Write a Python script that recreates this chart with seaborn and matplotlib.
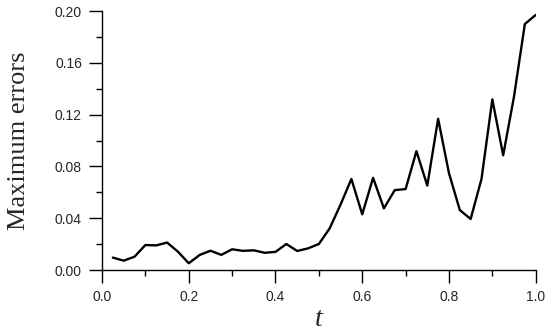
import numpy as np
import pandas as pd
import matplotlib
matplotlib.use("Agg")
import matplotlib.pyplot as plt
import seaborn as sns
from matplotlib.ticker import MultipleLocator

t_values = [0.025, 0.05, 0.075, 0.1, 0.125, 0.15, 0.175, 0.2, 0.225, 0.25,
            0.275, 0.3, 0.325, 0.35, 0.375, 0.4, 0.425, 0.45, 0.475, 0.5,
            0.525, 0.55, 0.575, 0.6, 0.625, 0.65, 0.675, 0.7, 0.725, 0.75,
            0.775, 0.8, 0.825, 0.85, 0.875, 0.9, 0.925, 0.95, 0.975, 1.0]
max_errors = [0.0096, 0.0072, 0.0103, 0.0193, 0.0190, 0.0212, 0.0142, 0.0052, 0.0116, 0.0149,
              0.0117, 0.0160, 0.0148, 0.0152, 0.0133, 0.0140, 0.0201, 0.0147, 0.0167, 0.0201,
              0.0322, 0.0505, 0.0703, 0.0430, 0.0712, 0.0476, 0.0617, 0.0625, 0.0918, 0.0652,
              0.1168, 0.0748, 0.0463, 0.0394, 0.0703, 0.1318, 0.0886, 0.1340, 0.1900, 0.1970]

df = pd.DataFrame({"t": t_values, "err": max_errors})

sns.set_style("ticks")
plt.rcParams['font.family'] = ['Liberation Sans', 'DejaVu Sans']

fig = plt.figure(figsize=(5.5, 3.35), dpi=100)
ax = fig.add_axes([0.1855, 0.194, 0.7885, 0.773])

sns.lineplot(data=df, x="t", y="err", color="black", linewidth=1.7, ax=ax)

ax.set_xlim(0, 1.0)
ax.set_ylim(0, 0.2)
ax.xaxis.set_major_locator(MultipleLocator(0.2))
ax.xaxis.set_minor_locator(MultipleLocator(0.1))
ax.yaxis.set_major_locator(MultipleLocator(0.04))
ax.yaxis.set_minor_locator(MultipleLocator(0.02))
ax.set_xticklabels([f"{v:.1f}" for v in ax.get_xticks()])
ax.set_yticklabels([f"{v:.2f}" for v in ax.get_yticks()])

ax.tick_params(which="major", direction="out", length=9.5, width=1.0, labelsize=10, pad=5, color="black")
ax.tick_params(which="minor", direction="out", length=4.5, width=1.0, color="black")
for s in ["left", "bottom"]:
    ax.spines[s].set_linewidth(1.0)
    ax.spines[s].set_color("black")
sns.despine(ax=ax)

ax.set_xlabel("t", fontsize=20, fontstyle="italic", family="Liberation Serif", labelpad=2)
ax.set_ylabel("Maximum errors", fontsize=19, family="Liberation Serif", labelpad=18)

fig.savefig("out.png", dpi=100)
